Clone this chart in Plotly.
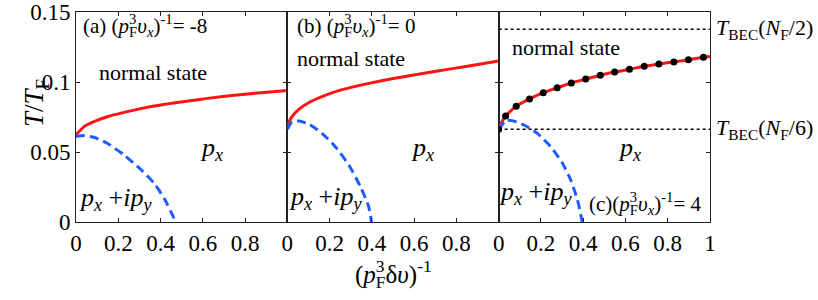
import plotly.graph_objects as go

# ---------------- data ----------------
# panel (a)  (p_F^3 v_x)^-1 = -8
a_red_x = [0.0, 0.038, 0.085, 0.148, 0.227, 0.306, 0.401, 0.496, 0.622, 0.749, 0.875, 1.0]
a_red_t = [0.0621, 0.0681, 0.0717, 0.0752, 0.0783, 0.0810, 0.0836, 0.0857, 0.0883, 0.0905, 0.0924, 0.0940]
a_blue_x = [0.0, 0.038, 0.085, 0.148, 0.227, 0.306, 0.370, 0.417, 0.464, 0.470]
a_blue_t = [0.0610, 0.0617, 0.0605, 0.0562, 0.0479, 0.0376, 0.0276, 0.0169, 0.0026, 0.0]

# panel (b)  (p_F^3 v_x)^-1 = 0
b_red_x = [0.0, 0.022, 0.054, 0.101, 0.164, 0.243, 0.338, 0.464, 0.591, 0.717, 0.844, 1.0]
b_red_t = [0.0693, 0.0752, 0.0805, 0.0852, 0.0895, 0.0938, 0.0974, 0.1014, 0.1048, 0.1081, 0.1110, 0.1150]
b_blue_x = [0.0, 0.022, 0.054, 0.101, 0.164, 0.227, 0.291, 0.346, 0.385, 0.398]
b_blue_t = [0.0662, 0.0717, 0.0721, 0.0700, 0.0633, 0.0538, 0.0407, 0.0252, 0.0109, 0.0]

# panel (c)  (p_F^3 v_x)^-1 = 4
c_red_x = [0.0, 0.012, 0.033, 0.083, 0.146, 0.211, 0.277, 0.344, 0.412, 0.481, 0.549,
           0.619, 0.689, 0.758, 0.829, 0.898, 0.969, 1.0]
c_red_t = [0.0662, 0.0705, 0.0757, 0.0826, 0.0879, 0.0924, 0.0959, 0.0993, 0.1021, 0.1048, 0.1071,
           0.1091, 0.1112, 0.1129, 0.1143, 0.1159, 0.1176, 0.1182]
c_dot_x = [0.0, 0.033, 0.083, 0.146, 0.211, 0.277, 0.344, 0.412, 0.481, 0.549,
           0.619, 0.689, 0.758, 0.829, 0.898, 0.969]
c_dot_t = [0.0662, 0.0757, 0.0826, 0.0879, 0.0924, 0.0959, 0.0993, 0.1021, 0.1048, 0.1071,
           0.1091, 0.1112, 0.1129, 0.1143, 0.1159, 0.1176]
c_blue_x = [0.0, 0.033, 0.065, 0.120, 0.183, 0.246, 0.302, 0.341, 0.373, 0.392, 0.395]
c_blue_t = [0.0657, 0.0724, 0.0724, 0.0693, 0.0633, 0.0538, 0.0419, 0.0300, 0.0157, 0.0026, 0.0]

tbec_levels = [0.1376, 0.0662]
tbec_labels = ["<i>T</i><sub>BEC</sub>(<i>N</i><sub>F</sub>/2)",
               "<i>T</i><sub>BEC</sub>(<i>N</i><sub>F</sub>/6)"]

xtick_ab = [0, 0.2, 0.4, 0.6, 0.8]
xtick_c = [0, 0.2, 0.4, 0.6, 0.8, 1]
ytick_vals = [0, 0.05, 0.1, 0.15]
ytick_text = ["0", "0.05", "0.1", "0.15"]

panel_values = ["-8", "0", "4"]

# ---------------- styling ----------------
FONT = "Liberation Serif"
RED = "#ff1414"
BLUE = "#1f5cff"
AX = "#222222"

W, H = 818, 300
ML, MT = 76, 12
PW, PH = 634, 210
MR = W - ML - PW
MB = H - MT - PH

fig = go.Figure()

panels = [
    (a_red_x, a_red_t, a_blue_x, a_blue_t, "x", "y"),
    (b_red_x, b_red_t, b_blue_x, b_blue_t, "x2", "y2"),
    (c_red_x, c_red_t, c_blue_x, c_blue_t, "x3", "y3"),
]
for rx, rt, bx, bt, xa, ya in panels:
    fig.add_trace(go.Scatter(x=rx, y=rt, mode="lines", line=dict(color=RED, width=3, shape="spline", smoothing=0.6),
                             xaxis=xa, yaxis=ya, showlegend=False, hoverinfo="skip"))
    fig.add_trace(go.Scatter(x=bx, y=bt, mode="lines",
                             line=dict(color=BLUE, width=3, dash="9px,5px", shape="spline", smoothing=0.6),
                             xaxis=xa, yaxis=ya, showlegend=False, hoverinfo="skip"))

for lvl in tbec_levels:
    fig.add_trace(go.Scatter(x=[0, 1], y=[lvl, lvl], mode="lines",
                             line=dict(color="black", width=1.5, dash="dot"),
                             xaxis="x3", yaxis="y3", showlegend=False, hoverinfo="skip"))

fig.add_trace(go.Scatter(x=c_dot_x, y=c_dot_t, mode="markers",
                         marker=dict(color="black", size=7),
                         xaxis="x3", yaxis="y3", showlegend=False, hoverinfo="skip"))

# ---------------- axes ----------------
common_x = dict(range=[0, 1], showline=True, linecolor=AX, linewidth=1, mirror="ticks",
                ticks="inside", ticklen=4, tickcolor=AX, showgrid=False, zeroline=False,
                automargin=False,
                tickfont=dict(family=FONT, size=23, color="black"))
common_y = dict(range=[0, 0.15000001], showline=True, linecolor=AX, linewidth=1, mirror="ticks",
                ticks="inside", ticklen=4, tickcolor=AX, showgrid=False, zeroline=False,
                ticklabeloverflow="allow", automargin=False,
                tickvals=ytick_vals, tickfont=dict(family=FONT, size=23, color="black"))

d = 1 / 3
fig.update_layout(
    xaxis=dict(common_x, domain=[0, d], anchor="y", tickvals=xtick_ab, ticktext=[str(v) for v in xtick_ab]),
    xaxis2=dict(common_x, domain=[d, 2 * d], anchor="y2", tickvals=xtick_ab, ticktext=[str(v) for v in xtick_ab]),
    xaxis3=dict(common_x, domain=[2 * d, 1], anchor="y3", tickvals=xtick_c, ticktext=[str(v) for v in xtick_c]),
    yaxis=dict(common_y, anchor="x", ticktext=ytick_text),
    yaxis2=dict(common_y, anchor="x2", showticklabels=False),
    yaxis3=dict(common_y, anchor="x3", showticklabels=False),
)

# ---------------- text ----------------
anns = []
TF = dict(family=FONT, size=22, color="black")


def px2paper_x(px):
    return (px - 76) / PW


def px2paper_y(py):
    return (222 - py) / PH


def hide(s):
    return '<span style="color:rgba(0,0,0,0)">' + s + '</span>'


def stacked(prefix, rest, x, y, xref, yref, size=21):
    """main text with p_F, plus an overlay that places the superscript 3 above the F."""
    main = prefix + "<sub>F</sub>" + rest
    over = hide(prefix) + "<sup>3</sup>" + hide("<sub>F</sub>" + rest)
    f = dict(family=FONT, size=size, color="black")
    for t in (main, over):
        anns.append(dict(text=t, x=x, y=y, xref=xref, yref=yref, xanchor="left", yanchor="middle",
                         showarrow=False, font=f))


lab_rest = "<i>υ</i><sub><i>x</i></sub>)<sup>-1</sup>= "
stacked("(a) (<i>p</i>", lab_rest + panel_values[0], 0.025, 0.1405, "x", "y", 21)
stacked("(b) (<i>p</i>", lab_rest + panel_values[1], 0.035, 0.1405, "x2", "y2", 21)
stacked("(c)(<i>p</i>", lab_rest + panel_values[2], 0.42, 0.0135, "x3", "y3", 21)

# x axis title
stacked("(<i>p</i>", "δ<i>υ</i>)<sup>-1</sup>", px2paper_x(353), px2paper_y(274), "paper", "paper", 25)

for xa, ya, nx, ny in [("x", "y", 0.365, 0.107), ("x2", "y2", 0.30, 0.117), ("x3", "y3", 0.318, 0.125)]:
    anns.append(dict(text="normal state", x=nx, y=ny, xref=xa, yref=ya, showarrow=False, font=TF))

for xa, ya, px in [("x", "y", 0.64), ("x2", "y2", 0.64), ("x3", "y3", 0.62)]:
    anns.append(dict(text="<i>p</i><sub><i>x</i></sub>", x=px, y=0.0525, xref=xa, yref=ya,
                     showarrow=False, font=dict(family=FONT, size=26, color="black")))

for xa, ya, px, py in [("x", "y", 0.185, 0.0165), ("x2", "y2", 0.18, 0.0175), ("x3", "y3", 0.175, 0.0205)]:
    anns.append(dict(text="<i>p</i><sub><i>x</i></sub> +<i>ip</i><sub><i>y</i></sub>", x=px, y=py,
                     xref=xa, yref=ya, showarrow=False, font=dict(family=FONT, size=26, color="black")))

for lvl, lab in zip(tbec_levels, tbec_labels):
    anns.append(dict(text=lab, x=1, y=lvl, xref="x3", yref="y3", xanchor="left", yanchor="middle",
                     xshift=4, showarrow=False, font=dict(family=FONT, size=22, color="black")))

# y axis title
anns.append(dict(text="<i>T</i>/<i>T</i><sub>F</sub>", x=px2paper_x(17), y=px2paper_y(103),
                 xref="paper", yref="paper", showarrow=False, textangle=-90,
                 font=dict(family=FONT, size=27, color="black")))

fig.update_layout(
    annotations=anns,
    width=W, height=H,
    margin=dict(l=ML, r=MR, t=MT, b=MB, pad=0, autoexpand=False),
    paper_bgcolor="white", plot_bgcolor="white",
    font=dict(family=FONT, color="black"),
)

# remove the browser's default 8px page margin so the figure fills the window exactly
fig.write_html("out.html", config={"displayModeBar": False, "staticPlot": True},
               post_script="document.body.style.margin='0';document.body.style.overflow='hidden';")
